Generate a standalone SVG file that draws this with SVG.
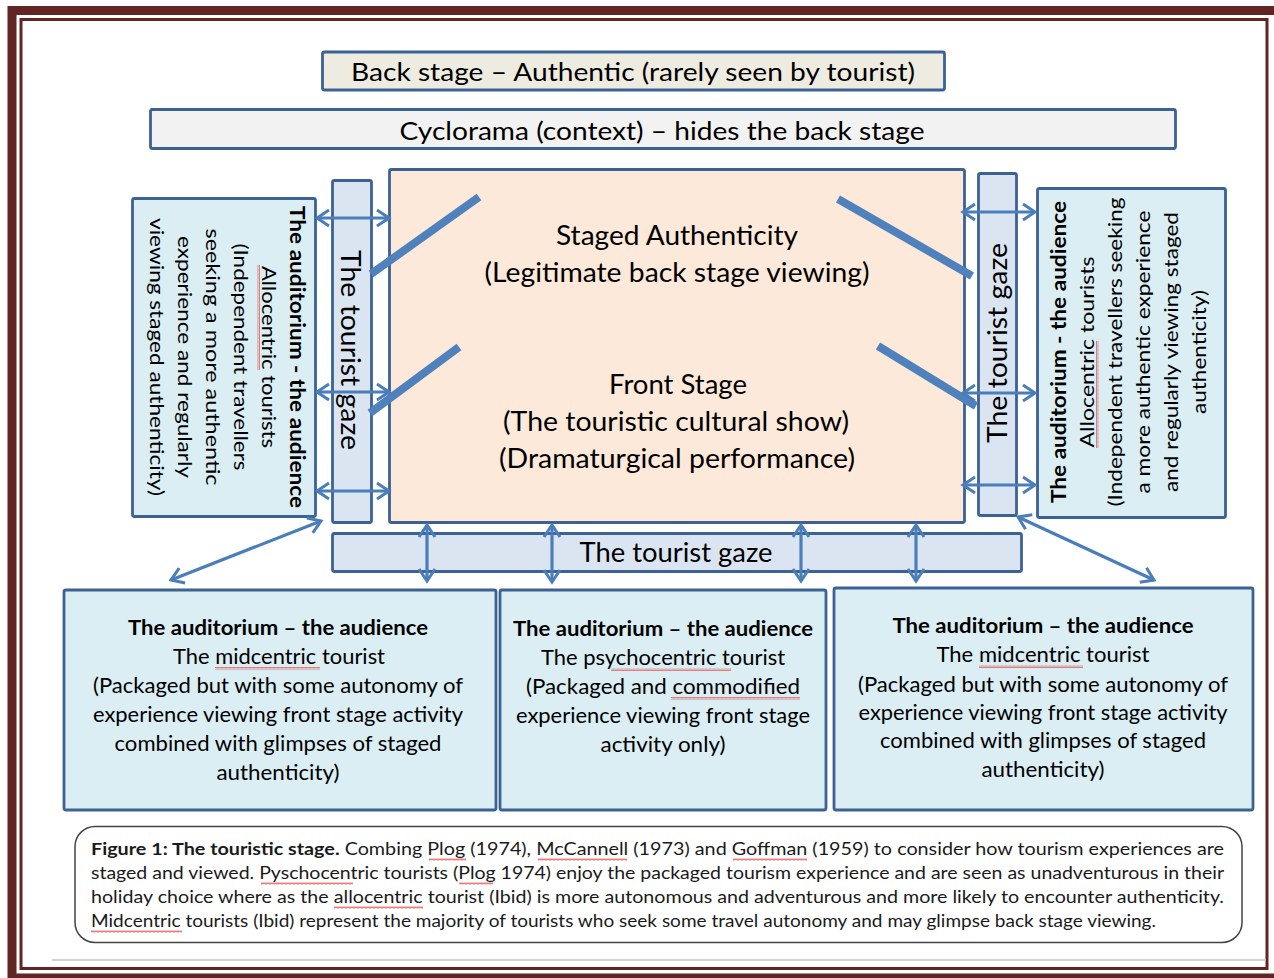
<svg xmlns="http://www.w3.org/2000/svg" width="1274" height="978" viewBox="0 0 1274 978">
<style>
.box{stroke:#3c6294;stroke-width:2.8}
.t{font-family:Lato,"Open Sans","Liberation Sans",sans-serif;fill:#000;text-anchor:middle}
.big{font-size:25px}
.mid{font-size:26px}
.sm{font-size:20px}
.bx{font-size:21px}
.b{font-weight:bold}
.cap{font-family:Lato,"Open Sans","Liberation Sans",sans-serif;font-size:17px;fill:#1a1a1a}
.arr{stroke:#4a7ebb;stroke-width:3.2;fill:none;marker-start:url(#ah);marker-end:url(#ah)}
.bar{stroke:#4f81bd;stroke-width:8;stroke-linecap:butt}
</style>
<defs>
<marker id="ah" viewBox="0 0 18 20" refX="15" refY="10" markerWidth="18" markerHeight="20" markerUnits="userSpaceOnUse" orient="auto-start-reverse">
<path d="M3,2 L15,10 L3,18" fill="none" stroke="#4a7ebb" stroke-width="3"/>
</marker>
<pattern id="sq" width="4" height="3" patternUnits="userSpaceOnUse"><path d="M0,2.5 L1,0.5 L2,2.5 L3,0.5 L4,2.5" stroke="#e06060" stroke-width="0.8" fill="none"/></pattern>
<pattern id="sqv" width="3" height="4" patternUnits="userSpaceOnUse"><path d="M0.5,0 L2.5,1 L0.5,2 L2.5,3 L0.5,4" stroke="#e06060" stroke-width="0.8" fill="none"/></pattern>
</defs>
<rect width="1274" height="978" fill="#fff"/>
<!-- frame -->
<rect x="12" y="10.5" width="1272" height="967.5" fill="none" stroke="#632523" stroke-width="9"/>
<rect x="21" y="19.5" width="1246" height="949" fill="none" stroke="#632523" stroke-width="3"/>
<line x1="52" y1="960" x2="1266" y2="960" stroke="#c4c4c4" stroke-width="1.5"/>

<g id="backstage">
<rect class="box" x="322.5" y="52" width="622" height="38" rx="2" fill="#eeece1"/>
<text class="t big" x="633" y="81" textLength="564" lengthAdjust="spacingAndGlyphs">Back stage – Authentic (rarely seen by tourist)</text>
</g>
<g id="cyclorama">
<rect class="box" x="150.5" y="109.5" width="1025" height="39" rx="2" fill="#f2f2f2"/>
<text class="t big" x="662" y="140" textLength="525" lengthAdjust="spacingAndGlyphs">Cyclorama (context) – hides the back stage</text>
</g>
<g id="stage">
<rect class="box" x="389.5" y="169.5" width="575" height="353" rx="2" fill="#fde9d9"/>
<text class="t mid" x="677" y="245" textLength="242" lengthAdjust="spacingAndGlyphs">Staged Authenticity</text>
<text class="t mid" x="677" y="282" textLength="385" lengthAdjust="spacingAndGlyphs">(Legitimate back stage viewing)</text>
<text class="t mid" x="678" y="394" textLength="138" lengthAdjust="spacingAndGlyphs">Front Stage</text>
<text class="t mid" x="676" y="431" textLength="346" lengthAdjust="spacingAndGlyphs">(The touristic cultural show)</text>
<text class="t mid" x="677" y="468" textLength="356" lengthAdjust="spacingAndGlyphs">(Dramaturgical  performance)</text>
</g>
<g id="gaze-left">
<rect class="box" x="332.5" y="180.5" width="39" height="342" rx="2" fill="#dbe5f1"/>
<text class="t mid" transform="translate(341,350) rotate(90)" textLength="200" lengthAdjust="spacingAndGlyphs">The tourist gaze</text>
</g>
<g id="gaze-right">
<rect class="box" x="978.5" y="173.5" width="38" height="342" rx="2" fill="#dbe5f1"/>
<text class="t mid" transform="translate(1007,343) rotate(-90)" textLength="200" lengthAdjust="spacingAndGlyphs">The tourist gaze</text>
</g>
<g id="gaze-bottom">
<rect class="box" x="332.5" y="533.5" width="689" height="38" rx="2" fill="#dbe5f1"/>
<text class="t mid" x="676" y="562" textLength="193" lengthAdjust="spacingAndGlyphs">The tourist gaze</text>
</g>
<g id="audience-left">
<rect class="box" x="132.5" y="198.5" width="183" height="318" rx="2" fill="#daeef3"/>
<g transform="translate(0,357)">
<text class="t sm b" transform="translate(290,0) rotate(90)" textLength="302" lengthAdjust="spacingAndGlyphs">The auditorium - the audience</text>
<text class="t sm" transform="translate(262,0) rotate(90)" textLength="182" lengthAdjust="spacingAndGlyphs">Allocentric tourists</text>
<text class="t sm" transform="translate(234,0) rotate(90)" textLength="227" lengthAdjust="spacingAndGlyphs">(Independent travellers</text>
<text class="t sm" transform="translate(206,0) rotate(90)" textLength="257" lengthAdjust="spacingAndGlyphs">seeking a more authentic</text>
<text class="t sm" transform="translate(178,0) rotate(90)" textLength="242" lengthAdjust="spacingAndGlyphs">experience and regularly</text>
<text class="t sm" transform="translate(150,0) rotate(90)" textLength="278" lengthAdjust="spacingAndGlyphs">viewing staged authenticity)</text>
</g>
<rect x="257" y="265" width="3" height="105" fill="url(#sqv)"/>
</g>
<g id="audience-right">
<rect class="box" x="1037.5" y="188.5" width="188" height="329" rx="2" fill="#daeef3"/>
<g transform="translate(0,352)">
<text class="t sm b" transform="translate(1066,0) rotate(-90)" textLength="302" lengthAdjust="spacingAndGlyphs">The auditorium - the audience</text>
<text class="t sm" transform="translate(1094,0) rotate(-90)" textLength="191" lengthAdjust="spacingAndGlyphs">Allocentric  tourists</text>
<text class="t sm" transform="translate(1122,0) rotate(-90)" textLength="309" lengthAdjust="spacingAndGlyphs">(Independent travellers seeking</text>
<text class="t sm" transform="translate(1150,0) rotate(-90)" textLength="283" lengthAdjust="spacingAndGlyphs">a more authentic experience</text>
<text class="t sm" transform="translate(1178,0) rotate(-90)" textLength="280" lengthAdjust="spacingAndGlyphs">and regularly viewing staged</text>
<text class="t sm" transform="translate(1206,0) rotate(-90)" textLength="124" lengthAdjust="spacingAndGlyphs">authenticity)</text>
</g>
<rect x="1096" y="341" width="3" height="107" fill="url(#sqv)"/>
</g>
<g id="audience-a">
<rect class="box" x="64" y="590" width="432" height="220" rx="2" fill="#daeef3"/>
<text class="t bx b" x="278" y="635" textLength="300" lengthAdjust="spacingAndGlyphs">The auditorium – the audience</text>
<text class="t bx" x="279" y="664" textLength="212" lengthAdjust="spacingAndGlyphs">The midcentric tourist</text>
<text class="t bx" x="278" y="693" textLength="370" lengthAdjust="spacingAndGlyphs">(Packaged but with some autonomy of</text>
<text class="t bx" x="278" y="722" textLength="370" lengthAdjust="spacingAndGlyphs">experience viewing front stage activity</text>
<text class="t bx" x="278" y="751" textLength="327" lengthAdjust="spacingAndGlyphs">combined with glimpses of staged</text>
<text class="t bx" x="278" y="780" textLength="123" lengthAdjust="spacingAndGlyphs">authenticity)</text>
<rect x="215" y="667" width="105" height="3" fill="url(#sq)"/>
</g>
<g id="audience-b">
<rect class="box" x="500" y="590" width="326" height="220" rx="2" fill="#daeef3"/>
<text class="t bx b" x="663" y="636" textLength="300" lengthAdjust="spacingAndGlyphs">The auditorium – the audience</text>
<text class="t bx" x="663" y="665" textLength="244" lengthAdjust="spacingAndGlyphs">The psychocentric tourist</text>
<text class="t bx" x="663" y="694" textLength="274" lengthAdjust="spacingAndGlyphs">(Packaged and commodified</text>
<text class="t bx" x="663" y="723" textLength="294" lengthAdjust="spacingAndGlyphs">experience viewing front stage</text>
<text class="t bx" x="663" y="752" textLength="125" lengthAdjust="spacingAndGlyphs">activity only)</text>
<rect x="611" y="668" width="120" height="3" fill="url(#sq)"/>
<rect x="671" y="697" width="129" height="3" fill="url(#sq)"/>
</g>
<g id="audience-c">
<rect class="box" x="834" y="588" width="419" height="222" rx="2" fill="#daeef3"/>
<text class="t bx b" x="1043" y="633" textLength="301" lengthAdjust="spacingAndGlyphs">The auditorium – the audience</text>
<text class="t bx" x="1043" y="662" textLength="213" lengthAdjust="spacingAndGlyphs">The midcentric tourist</text>
<text class="t bx" x="1043" y="692" textLength="370" lengthAdjust="spacingAndGlyphs">(Packaged but with some autonomy of</text>
<text class="t bx" x="1043" y="720" textLength="369" lengthAdjust="spacingAndGlyphs">experience viewing front stage activity</text>
<text class="t bx" x="1043" y="748" textLength="326" lengthAdjust="spacingAndGlyphs">combined with glimpses of staged</text>
<text class="t bx" x="1043" y="777" textLength="123" lengthAdjust="spacingAndGlyphs">authenticity)</text>
<rect x="979" y="665" width="104" height="3" fill="url(#sq)"/>
</g>

<g id="connectors">
<line class="bar" x1="371" y1="274" x2="479" y2="197"/>
<line class="bar" x1="370" y1="413" x2="459" y2="347"/>
<line class="bar" x1="838" y1="199" x2="972" y2="276"/>
<line class="bar" x1="878" y1="346" x2="976" y2="406"/>
<line class="arr" x1="317" y1="218" x2="389" y2="218"/>
<line class="arr" x1="317" y1="392" x2="389" y2="392"/>
<line class="arr" x1="317" y1="491" x2="389" y2="491"/>
<line class="arr" x1="963" y1="212" x2="1035" y2="212"/>
<line class="arr" x1="963" y1="393" x2="1035" y2="393"/>
<line class="arr" x1="963" y1="485" x2="1035" y2="485"/>
<line class="arr" x1="427" y1="525" x2="427" y2="581"/>
<line class="arr" x1="552" y1="525" x2="552" y2="582"/>
<line class="arr" x1="801" y1="525" x2="801" y2="581"/>
<line class="arr" x1="916" y1="525" x2="916" y2="581"/>
<line class="arr" x1="321" y1="521" x2="171" y2="580"/>
<line class="arr" x1="1018" y1="517" x2="1154" y2="580"/>
</g>

<g id="caption">
<rect x="75" y="826.5" width="1167" height="116" rx="20" fill="#fff" stroke="#444" stroke-width="1.5"/>
<text class="cap" x="91" y="855" textLength="1133" lengthAdjust="spacingAndGlyphs"><tspan font-weight="bold">Figure 1: The touristic stage.</tspan> Combing Plog (1974), McCannell (1973) and Goffman (1959) to consider how tourism experiences are</text>
<text class="cap" x="91" y="879" textLength="1133" lengthAdjust="spacingAndGlyphs">staged and viewed. Pyschocentric tourists (Plog 1974) enjoy the packaged tourism experience and are seen as unadventurous in their</text>
<text class="cap" x="91" y="903" textLength="1133" lengthAdjust="spacingAndGlyphs">holiday choice where as the allocentric tourist (Ibid) is more autonomous and adventurous and more likely to encounter authenticity.</text>
<text class="cap" x="91" y="927" textLength="1065" lengthAdjust="spacingAndGlyphs">Midcentric tourists (Ibid) represent the majority of tourists who seek some travel autonomy and may  glimpse back stage viewing.</text>
<rect x="429" y="858" width="37" height="3" fill="url(#sq)"/>
<rect x="538" y="858" width="89" height="3" fill="url(#sq)"/>
<rect x="733" y="858" width="74" height="3" fill="url(#sq)"/>
<rect x="261" y="882" width="92" height="3" fill="url(#sq)"/>
<rect x="459" y="882" width="34" height="3" fill="url(#sq)"/>
<rect x="334" y="906" width="89" height="3" fill="url(#sq)"/>
<rect x="91" y="930" width="91" height="3" fill="url(#sq)"/>
</g>
</svg>
